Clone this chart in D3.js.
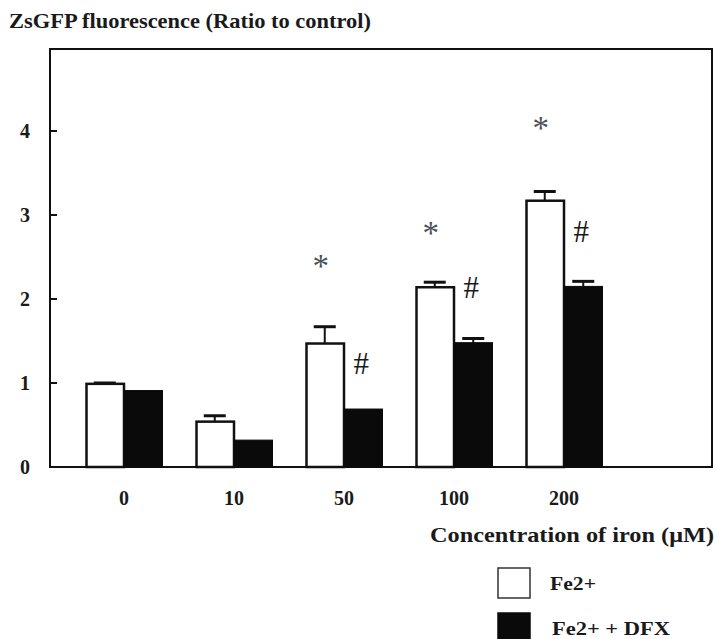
<!DOCTYPE html>
<html>
<head>
<meta charset="utf-8">
<script src="https://cdn.jsdelivr.net/npm/d3@7"></script>
<style>
  body { margin: 0; background: #fff; }
  text { font-family: "Liberation Serif", "DejaVu Serif", serif; fill: #1a1a1a; }
</style>
</head>
<body>
<script>
// data
var categories = ["0", "10", "50", "100", "200"];
var fe = [0.99, 0.54, 1.47, 2.14, 3.17];
var feErr = [0.01, 0.07, 0.20, 0.06, 0.11];
var dfx = [0.91, 0.32, 0.69, 1.48, 2.15];
var dfxErr = [0, 0, 0, 0.05, 0.06];
var yTicks = [0, 1, 2, 3, 4];
// significance marks: group, height (in y units) of the mark's centre
var stars = [["50", 2.46], ["100", 2.85], ["200", 4.1]];
var hashes = [["50", 1.23], ["100", 2.14], ["200", 2.8]];
var seriesNames = ["Fe2+", "Fe2+ + DFX"];

var w = 718, h = 639;
var frameL = 50, frameR = 712, frameT = 49, frameB = 467;

var svg = d3.select("body").append("svg")
  .attr("width", w)
  .attr("height", h);

var y = d3.scaleLinear().domain([0, 5]).range([frameB, frameB - 5 * 84]);
var x0 = d3.scaleBand().domain(categories).range([69, 619])
  .paddingInner(0.3).paddingOuter(0.15);
var x1 = d3.scaleBand().domain(["fe", "dfx"]).range([0, x0.bandwidth()]);

// title
svg.append("text")
  .attr("x", 9).attr("y", 28)
  .attr("font-size", 21).attr("font-weight", "bold")
  .attr("textLength", 362).attr("lengthAdjust", "spacingAndGlyphs")
  .text("ZsGFP fluorescence (Ratio to control)");

// frame
svg.append("rect")
  .attr("x", frameL).attr("y", frameT)
  .attr("width", frameR - frameL).attr("height", frameB - frameT)
  .attr("fill", "none").attr("stroke", "#111").attr("stroke-width", 2);

// y ticks (inward) and labels
svg.selectAll(".ytick").data(yTicks).enter().append("line")
  .attr("x1", frameL).attr("x2", frameL + 7)
  .attr("y1", function(d) { return y(d); })
  .attr("y2", function(d) { return y(d); })
  .attr("stroke", "#111").attr("stroke-width", 2);

svg.selectAll(".ylab").data(yTicks).enter().append("text")
  .attr("x", 25).attr("y", function(d) { return y(d); })
  .attr("dy", "0.33em")
  .attr("text-anchor", "middle")
  .attr("font-size", 20).attr("font-weight", "bold")
  .text(function(d) { return d; });

// x labels
svg.selectAll(".xlab").data(categories).enter().append("text")
  .attr("x", function(d) { return x0(d) + x0.bandwidth() / 2; })
  .attr("y", 505)
  .attr("text-anchor", "middle")
  .attr("font-size", 20).attr("font-weight", "bold")
  .text(function(d) { return d; });

// bars
var rows = categories.map(function(c, i) {
  return {cat: c, fe: fe[i], feErr: feErr[i], dfx: dfx[i], dfxErr: dfxErr[i]};
});

function drawErr(key, errKey) {
  var cap = 11;
  rows.forEach(function(d) {
    if (d[errKey] <= 0) return;
    var cx = x0(d.cat) + x1(key) + x1.bandwidth() / 2;
    svg.append("line")
      .attr("x1", cx).attr("x2", cx)
      .attr("y1", y(d[key])).attr("y2", y(d[key] + d[errKey]))
      .attr("stroke", "#111").attr("stroke-width", 2);
    svg.append("line")
      .attr("x1", cx - cap).attr("x2", cx + cap)
      .attr("y1", y(d[key] + d[errKey])).attr("y2", y(d[key] + d[errKey]))
      .attr("stroke", "#111").attr("stroke-width", 3);
  });
}

drawErr("fe", "feErr");
drawErr("dfx", "dfxErr");

svg.selectAll(".barfe").data(rows).enter().append("rect")
  .attr("x", function(d) { return x0(d.cat) + x1("fe") + 1; })
  .attr("y", function(d) { return y(d.fe); })
  .attr("width", x1.bandwidth() - 1)
  .attr("height", function(d) { return y(0) - y(d.fe); })
  .attr("fill", "#fff").attr("stroke", "#111").attr("stroke-width", 2.5);

svg.selectAll(".bardfx").data(rows).enter().append("rect")
  .attr("x", function(d) { return x0(d.cat) + x1("dfx"); })
  .attr("y", function(d) { return y(d.dfx); })
  .attr("width", x1.bandwidth())
  .attr("height", function(d) { return y(0) - y(d.dfx); })
  .attr("fill", "#0a0a0a").attr("stroke", "#0a0a0a").attr("stroke-width", 1);

// significance marks
svg.selectAll(".star").data(stars).enter().append("text")
  .attr("x", function(d) { return x0(d[0]) + x1("fe") + x1.bandwidth() / 2 - 4; })
  .attr("y", function(d) { return y(d[1]); })
  .attr("dy", "0.5em")
  .attr("text-anchor", "middle")
  .attr("font-size", 33).style("fill", "#4a4f55")
  .text("*");

svg.selectAll(".hash").data(hashes).enter().append("text")
  .attr("x", function(d) { return x0(d[0]) + x1("dfx") + x1.bandwidth() / 2 - 2; })
  .attr("y", function(d) { return y(d[1]); })
  .attr("dy", "0.34em")
  .attr("text-anchor", "middle")
  .attr("font-size", 31)
  .text("#");

// x axis title
svg.append("text")
  .attr("x", 430).attr("y", 542)
  .attr("font-size", 20).attr("font-weight", "bold")
  .attr("textLength", 284).attr("lengthAdjust", "spacingAndGlyphs")
  .text("Concentration of iron (\u03bcM)");

// legend
var legY = [568, 613];
var legW = [46, 118];
seriesNames.forEach(function(name, i) {
  svg.append("rect")
    .attr("x", 498).attr("y", legY[i])
    .attr("width", 32).attr("height", 30)
    .attr("fill", i === 0 ? "#fff" : "#0a0a0a")
    .attr("stroke", i === 0 ? "#333" : "#0a0a0a").attr("stroke-width", 1.5);
  svg.append("text")
    .attr("x", i === 0 ? 550 : 552).attr("y", legY[i] + 22)
    .attr("font-size", 18).attr("font-weight", "bold")
    .attr("textLength", legW[i]).attr("lengthAdjust", "spacingAndGlyphs")
    .text(name);
});
</script>
</body>
</html>
